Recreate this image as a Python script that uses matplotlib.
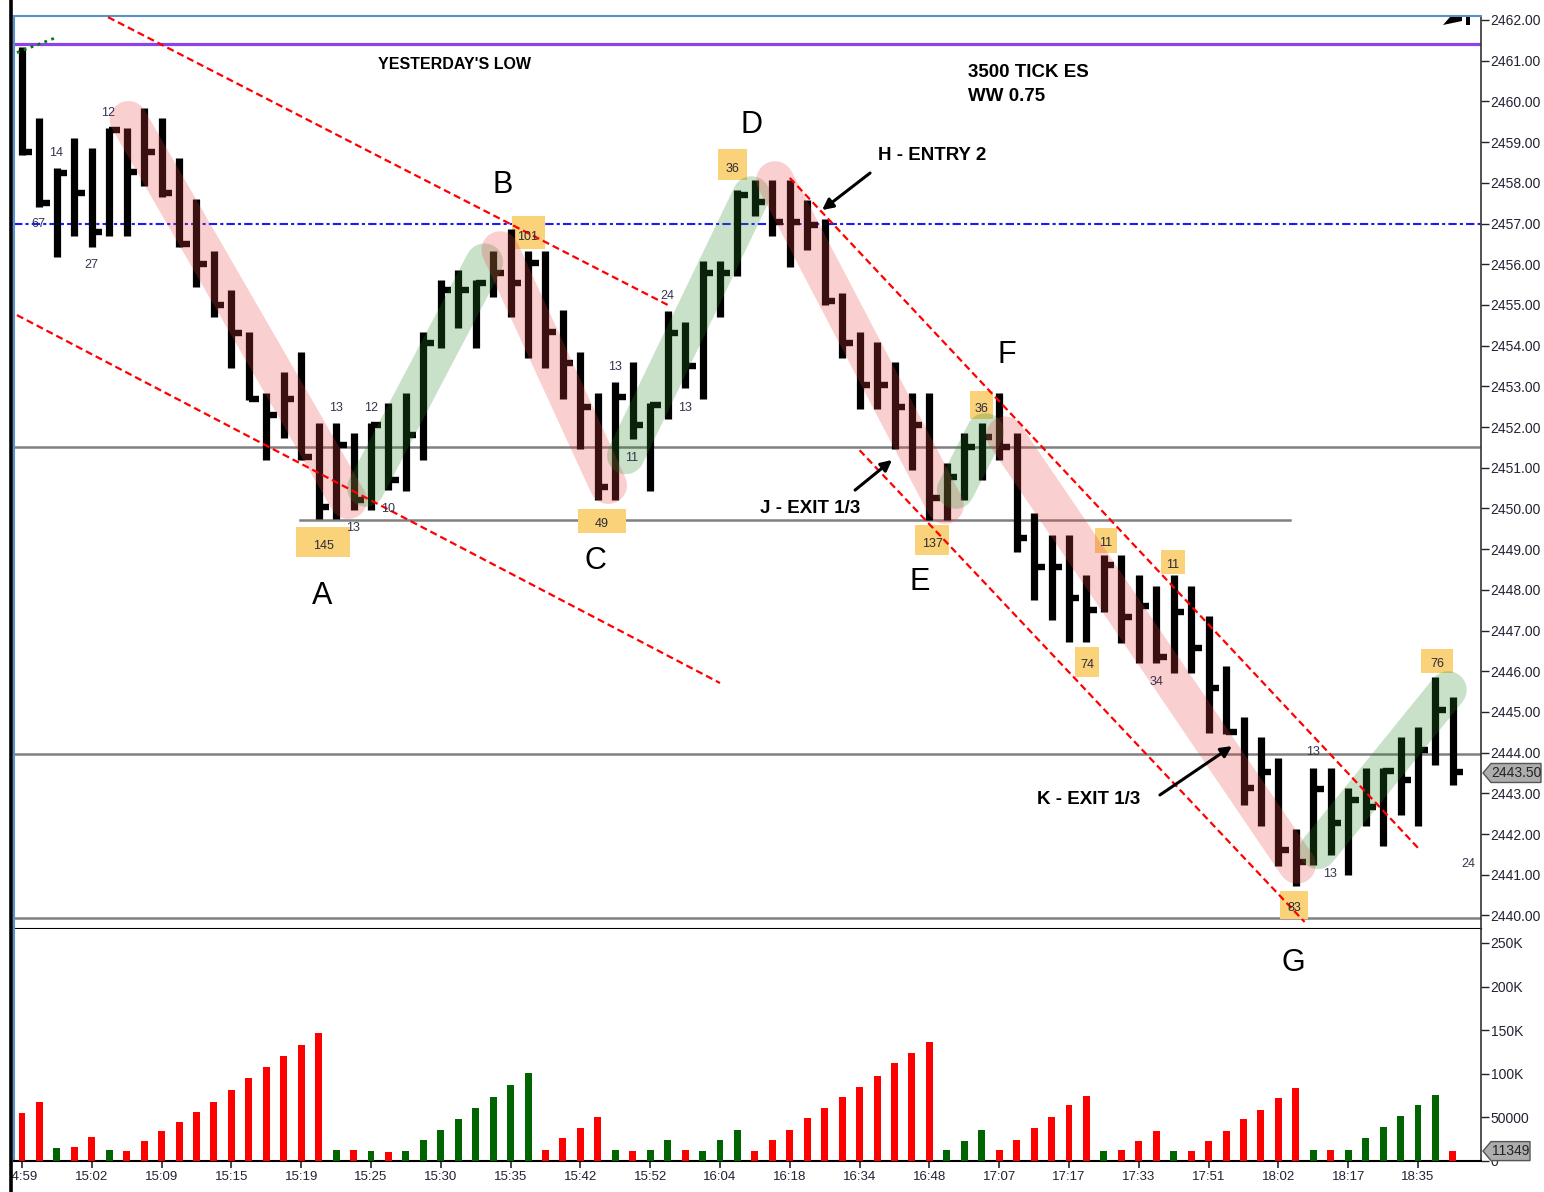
import matplotlib.pyplot as plt
from matplotlib.patches import Rectangle, Polygon
from matplotlib.lines import Line2D
import numpy as np

# HLC bars (3500 tick ES)
highs = [2461.34, 2459.6, 2458.36, 2459.1, 2458.85, 2459.35, 2459.35, 2459.84, 2459.6, 2458.6,
         2457.6, 2456.33, 2455.37, 2454.33, 2452.83, 2453.35, 2453.84, 2452.1, 2452.1, 2451.85,
         2452.1, 2452.6, 2452.83, 2454.33, 2455.6, 2455.86, 2455.6, 2456.33, 2456.86, 2456.33,
         2456.33, 2454.87, 2453.84, 2452.83, 2453.1, 2453.6, 2452.6, 2454.85, 2454.58, 2456.08,
         2456.08, 2457.82, 2458.07, 2458.07, 2458.07, 2457.58, 2457.1, 2455.3, 2454.33, 2454.09,
         2453.6, 2452.83, 2452.83, 2451.12, 2451.85, 2452.1, 2452.83, 2451.85, 2449.89, 2449.35,
         2449.35, 2448.36, 2448.85, 2448.85, 2448.36, 2448.1, 2448.36, 2448.1, 2447.36, 2446.13,
         2444.87, 2444.38, 2443.87, 2442.12, 2443.62, 2443.62, 2443.13, 2443.62, 2443.62, 2444.38,
         2444.63, 2445.86, 2445.37]
lows = [2458.68, 2457.4, 2456.18, 2456.7, 2456.42, 2456.7, 2456.7, 2457.92, 2457.65, 2456.42,
        2455.44, 2454.7, 2453.45, 2452.66, 2451.2, 2451.73, 2451.2, 2449.74, 2449.74, 2449.96,
        2449.96, 2450.45, 2450.43, 2451.2, 2453.94, 2454.43, 2453.94, 2455.2, 2454.7, 2453.7,
        2453.45, 2452.69, 2451.46, 2450.2, 2450.2, 2451.7, 2450.43, 2452.2, 2452.96, 2452.69,
        2454.7, 2455.7, 2457.18, 2456.7, 2455.93, 2456.35, 2455.0, 2453.7, 2452.44, 2452.44,
        2451.46, 2450.94, 2449.72, 2449.72, 2450.2, 2450.7, 2451.2, 2448.93, 2447.75, 2447.26,
        2446.72, 2446.72, 2447.45, 2446.7, 2446.2, 2446.2, 2445.96, 2445.96, 2444.48, 2444.46,
        2442.71, 2442.2, 2441.21, 2440.72, 2441.24, 2441.48, 2440.99, 2442.2, 2441.71, 2442.47,
        2442.2, 2443.7, 2443.2]
closes = [2458.75, 2457.5, 2458.25, 2457.75, 2456.8, 2459.3, 2458.27, 2458.76, 2457.75, 2456.5,
          2456.0, 2455.0, 2454.3, 2452.7, 2452.3, 2452.7, 2451.26, 2450.03, 2451.56, 2450.2,
          2452.05, 2450.7, 2451.8, 2454.06, 2455.37, 2455.37, 2455.55, 2455.78, 2455.54, 2456.03,
          2454.33, 2453.57, 2452.5, 2450.53, 2452.74, 2452.05, 2452.55, 2454.3, 2453.5, 2455.78,
          2455.78, 2457.7, 2457.53, 2457.04, 2457.04, 2456.96, 2455.1, 2454.06, 2453.03, 2453.03,
          2452.5, 2452.05, 2450.25, 2450.77, 2451.5, 2451.76, 2451.5, 2449.27, 2448.56, 2448.56,
          2447.8, 2447.5, 2448.6, 2447.33, 2447.6, 2446.35, 2447.45, 2446.57, 2445.6, 2444.5,
          2443.13, 2443.52, 2441.6, 2441.31, 2443.1, 2442.27, 2442.84, 2442.66, 2443.55, 2443.33,
          2444.06, 2445.05, 2443.52]

# volume in thousands, r = down bar, g = up bar
volume_k = [54.8, 68, 14.5, 16, 27.6, 13, 11.5, 23, 34.6, 45,
            56.5, 68, 81.8, 95, 108, 120, 132.5, 146.7, 13, 13,
            11.5, 10.4, 11.5, 24.6, 36, 47.6, 60.6, 73.7, 87.5, 100.6,
            13, 26, 37.6, 50.7, 13, 11.5, 13, 24.6, 13, 11.5,
            24.6, 36, 11.5, 24.6, 36, 49, 60.6, 73.7, 85.3, 98,
            112, 123.6, 136.6, 13, 23, 36, 13, 24.6, 37.6, 50.7,
            64.7, 75, 11.5, 13, 23, 34.6, 11.5, 11.5, 23, 34.6,
            47.6, 59, 72, 83.5, 13, 13, 13, 26, 39, 52,
            64.7, 76, 11.35]
vol_dir = "rrgrrgrrrr" "rrrrrrrrgr" "grgggggggg" "rrrrgrggrg" "ggrrrrrrrr" \
          "rrrgggrrrr" "rrgrrrgrrr" "rrrrgrgggg" "ggr"

time_labels = ["14:59", "15:02", "15:09", "15:15", "15:19", "15:25", "15:30", "15:35",
               "15:42", "15:52", "16:04", "16:18", "16:34", "16:48", "17:07", "17:17",
               "17:33", "17:51", "18:02", "18:17", "18:35"]
price_ticks = list(range(2440, 2463))
vol_ticks = [0, 50000, 100000, 150000, 200000, 250000]
vol_tick_labels = ["0", "50000", "100K", "150K", "200K", "250K"]

yesterday_low = 2461.41
pivot_level = 2457.0
gray_levels = [2451.51, 2443.97, 2439.94]
last_price = 2443.50
last_volume = 11349

W, H = 1544, 1192
LAB = "Liberation Sans"


def px_rect(l, t, r, b):
    return [l / W, 1 - b / H, (r - l) / W, (b - t) / H]


def fig_px(px, py):
    # pixel from top-left -> figure fraction
    return (px / W, 1 - py / H)


fig = plt.figure(figsize=(W / 100, H / 100), dpi=100)
ax = fig.add_axes(px_rect(14, 16, 1481, 929))
axv = fig.add_axes(px_rect(14, 929, 1481, 1161), sharex=ax)

x = np.arange(len(highs))

# price bars
ax.vlines(x, lows, highs, color="black", lw=5.2, zorder=3)
ax.hlines(closes, x, x + 0.6, color="black", lw=4.6, zorder=3)

# levels
ax.axhline(yesterday_low, color="#8a44e8", lw=2.3, zorder=2)
ax.axhline(pivot_level, color="#1a1aff", lw=1.5, ls=(0, (4, 1.5, 1.5, 1.5)), zorder=2)
for lv in gray_levels:
    ax.axhline(lv, color="#808080", lw=1.8, zorder=1)
ax.plot([15.93, 72.66], [2449.72, 2449.72], color="#808080", lw=1.8, zorder=1)

# swing highlights
pink = (0.92, 0.25, 0.25)
green = (0.16, 0.54, 0.16)
bands = [((6.1, 2459.55), (18.7, 2450.2), pink),
         ((19.7, 2450.5), (26.5, 2456.05), green),
         ((27.4, 2456.35), (33.6, 2450.57), pink),
         ((34.6, 2451.3), (41.8, 2457.7), green),
         ((43.15, 2458.07), (52.9, 2450.08), pink),
         ((53.5, 2450.45), (55.2, 2451.88), green),
         ((56.33, 2451.8), (73.07, 2441.24), pink),
         ((74.27, 2441.6), (81.72, 2445.54), green)]
for p0, p1, c in bands:
    ax.plot([p0[0], p1[0]], [p0[1], p1[1]], color=c, lw=27, alpha=0.25,
            solid_capstyle="round", zorder=4)

# channel lines
channels = [((4.93, 2462.07), (37.0, 2455.0)),
            ((-0.29, 2454.75), (40.0, 2445.71)),
            ((44.0, 2458.12), (80.0, 2441.66)),
            ((48.0, 2451.43), (73.5, 2439.84))]
for p0, p1 in channels:
    ax.plot([p0[0], p1[0]], [p0[1], p1[1]], color="red", lw=1.6,
            ls=(0, (3.2, 1.8)), zorder=5)
ax.plot([-0.29, 1.9], [2461.2, 2461.56], color="green", lw=2, ls=":", zorder=5)

# orange count boxes
boxes = [("145", 17.25, 2449.17, 3.04, 0.74), ("101", 29.0, 2456.77, 1.89, 0.81),
         ("49", 33.24, 2449.69, 2.75, 0.59), ("36", 40.69, 2458.44, 1.66, 0.76),
         ("36", 54.96, 2452.54, 1.32, 0.71), ("137", 52.15, 2449.22, 1.95, 0.74),
         ("11", 62.12, 2449.22, 1.26, 0.61), ("74", 61.03, 2446.23, 1.38, 0.74),
         ("11", 65.96, 2448.68, 1.32, 0.59), ("83", 72.89, 2440.26, 1.6, 0.69),
         ("76", 81.09, 2446.25, 1.78, 0.57)]
for lab, bx, by, bw, bh in boxes:
    ax.add_patch(Rectangle((bx - bw / 2, by - bh / 2), bw, bh, fc="#f9d27a",
                           ec="none", zorder=2))
    ax.text(bx, by - bh * 0.12, lab, ha="center", va="center", fontsize=9,
            family=LAB, color="#2a2a3a", zorder=6)

# small counts
counts = [("14", 1.95, 2458.73), ("67", 0.92, 2456.99), ("27", 3.95, 2455.98),
          ("12", 4.93, 2459.71), ("13", 17.99, 2452.47), ("12", 20.0, 2452.47),
          ("13", 18.97, 2449.52), ("10", 20.97, 2449.99), ("24", 36.96, 2455.22),
          ("13", 33.98, 2453.47), ("13", 37.99, 2452.47), ("11", 34.96, 2451.24),
          ("34", 64.99, 2445.73), ("13", 73.98, 2444.01), ("13", 74.96, 2441.02),
          ("24", 82.87, 2441.26)]
for lab, cx, cy in counts:
    ax.text(cx, cy, lab, ha="center", va="center", fontsize=9, family=LAB,
            color="#33334d", zorder=6)

# swing letters
letters = [("A", 17.19, 2447.85), ("B", 27.56, 2457.95), ("C", 32.89, 2448.71),
           ("D", 41.83, 2459.42), ("E", 51.46, 2448.19), ("F", 56.45, 2453.77)]
for lab, lx, ly in letters:
    ax.text(lx, ly, lab, ha="center", va="center", fontsize=22, family=LAB, zorder=6)
axv.text(72.84, 226700, "G", ha="center", va="center", fontsize=22, family=LAB)

bold = dict(fontsize=13.5, family=LAB, fontweight="bold", va="center", ha="left", zorder=6)
ax.text(20.4, 2460.9, "YESTERDAY'S LOW", **dict(bold, fontsize=11.5))
ax.text(54.2, 2460.72, "3500 TICK ES", **bold)
ax.text(54.2, 2460.13, "WW 0.75", **bold)
ax.text(49.05, 2458.68, "H - ENTRY 2", **bold)
ax.text(42.29, 2450.01, "J - EXIT 1/3", **bold)
ax.text(58.17, 2442.84, "K - EXIT 1/3", **bold)

arrows = [((45.85, 2457.33), (48.6, 2458.24)),
          ((49.86, 2451.19), (47.74, 2450.45)),
          ((69.34, 2444.16), (65.21, 2442.96))]
for head, tail in arrows:
    ax.annotate("", xy=head, xytext=tail, zorder=6,
                arrowprops=dict(arrowstyle="-|>", color="black", lw=2.2,
                                mutation_scale=16, shrinkA=0, shrinkB=0))

# volume panel
vcols = ["#ff0000" if d == "r" else "#006400" for d in vol_dir]
axv.bar(x, np.array(volume_k) * 1000, width=0.4, color=vcols, zorder=3)

# axes styling
ax.set_xlim(-0.458, 83.61)
ax.set_ylim(2439.667, 2462.098)
axv.set_ylim(0, 266000)

for a in (ax, axv):
    a.yaxis.tick_right()
    a.tick_params(axis="y", direction="out", length=6, width=1, pad=1,
                  labelsize=10, colors="#222233")
    a.spines["left"].set_color("#5b8fd0")
    a.spines["left"].set_linewidth(1.5)
    a.spines["right"].set_color("#333333")
    a.spines["right"].set_linewidth(1.2)
ax.spines["top"].set_color("#5b8fd0")
ax.spines["top"].set_linewidth(1.5)
ax.spines["bottom"].set_color("black")
ax.spines["bottom"].set_linewidth(1.5)
axv.spines["top"].set_visible(False)
axv.spines["bottom"].set_linewidth(1.5)

ax.set_yticks(price_ticks)
ax.set_yticklabels([f"{p:.2f}" for p in price_ticks], family=LAB)
ax.tick_params(axis="x", which="both", bottom=False, labelbottom=False)

axv.set_yticks(vol_ticks)
axv.set_yticklabels(vol_tick_labels, family=LAB)
axv.set_xticks(x[::4])
axv.set_xticklabels(time_labels, family=LAB)
axv.tick_params(axis="x", direction="out", length=5, width=1.2, pad=2,
                labelsize=9.5, colors="#222233")


def value_tag(a, value, text, right_px):
    # gray price tag with a point on its left, sitting just right of the axis
    yd = a.transData.transform((0, value))[1]
    yf = fig.transFigure.inverted().transform((0, yd))[1]
    hh = 9.5 / H
    x0, x1, x2 = 1483 / W, 1491 / W, right_px / W
    fig.add_artist(Polygon([(x0, yf), (x1, yf + hh), (x2, yf + hh), (x2, yf - hh),
                            (x1, yf - hh)], closed=True, fc="#adadad", ec="#555555",
                           lw=1, transform=fig.transFigure, zorder=7))
    fig.text((x1 + x2) / 2, yf, text, ha="center", va="center", fontsize=10,
             family=LAB, color="#222222", zorder=8)


value_tag(ax, last_price, f"{last_price:.2f}", 1541)
value_tag(axv, last_volume, f"{last_volume}", 1530)

# replay marker in the top right corner
fig.add_artist(Polygon([fig_px(1443, 25), fig_px(1450, 17), fig_px(1462, 17),
                        fig_px(1462, 21)], closed=True, fc="black", ec="none",
                       transform=fig.transFigure, zorder=7))
fig.add_artist(Rectangle(fig_px(1466, 25), 4 / W, 8 / H, fc="black", ec="none",
                         transform=fig.transFigure, zorder=7))

# window edge
fig.add_artist(Rectangle((0, 0), 12.5 / W, 1, transform=fig.transFigure,
                         fc="white", ec="none", zorder=8))
fig.add_artist(Line2D([11 / W, 11 / W], [0, 1], color="black", lw=2.6, zorder=9))

fig.savefig("out.png", dpi=100, facecolor="white")
